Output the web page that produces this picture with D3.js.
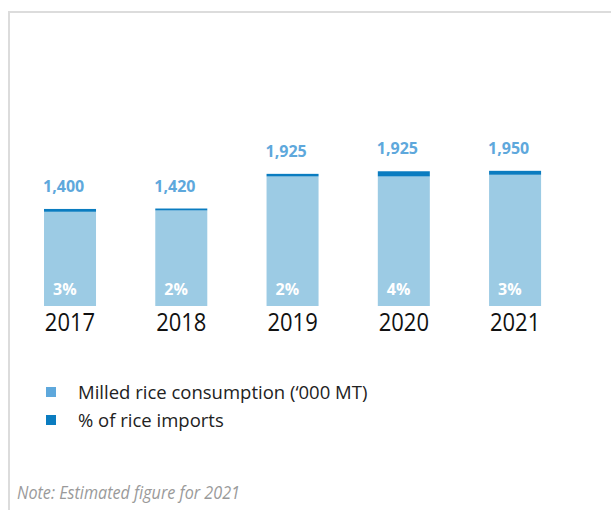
<!DOCTYPE html>
<html><head><meta charset="utf-8">
<script src="https://cdn.jsdelivr.net/npm/d3@7"></script>
<style>
html,body{margin:0;padding:0;background:#fff;}
svg{display:block;font-family:"Open Sans",sans-serif;}
</style></head>
<body>
<svg id="chart" width="611" height="510"></svg>
<script>
const years = ["2017","2018","2019","2020","2021"];
const consumption = [1400, 1420, 1925, 1925, 1950];
const importPct = [3, 2, 2, 4, 3];
const legendLabels = ["Milled rice consumption (\u2018000 MT)", "% of rice imports"];
const noteText = "Note: Estimated figure for 2021";

const svg = d3.select("#chart");
const lightBar = "#9ccbe4", darkBar = "#0a7cc0", valueColor = "#5ea8dc";

// frame
svg.append("line").attr("x1",9).attr("x2",611).attr("y1",12).attr("y2",12).attr("stroke","#dcdcdc").attr("stroke-width",2);
svg.append("line").attr("x1",9).attr("x2",9).attr("y1",11).attr("y2",510).attr("stroke","#dcdcdc").attr("stroke-width",2);

const x = d3.scaleBand().domain(years).range([16.2, 568.9]).paddingInner(0.5326).paddingOuter(0.25);
const y = d3.scaleLinear().domain([0, 2000]).range([306, 306 - 2000*0.0673]);

const data = years.map((yr,i)=>({year:yr, cons:consumption[i], pct:importPct[i], imp:consumption[i]*importPct[i]/100}));

const g = svg.append("g");
g.selectAll("rect.light").data(data).join("rect").attr("class","light")
  .attr("x", d=>x(d.year)).attr("width", x.bandwidth())
  .attr("y", d=>y(d.cons)).attr("height", d=>y(0)-y(d.cons)).attr("fill", lightBar);
g.selectAll("rect.dark").data(data).join("rect").attr("class","dark")
  .attr("x", d=>x(d.year)).attr("width", x.bandwidth())
  .attr("y", d=>y(d.cons + d.imp)).attr("height", d=>y(d.cons)-y(d.cons+d.imp)).attr("fill", darkBar);

g.selectAll("text.val").data(data).join("text").attr("class","val")
  .attr("x", d=>x(d.year)-1).attr("y", d=>y(d.cons+d.imp)-17)
  .attr("font-size",16).attr("font-weight",700).attr("fill",valueColor)
  .text(d=>d3.format(",")(d.cons));

g.selectAll("text.pct").data(data).join("text").attr("class","pct")
  .attr("x", d=>x(d.year)+9).attr("y", 295)
  .attr("font-size",16).attr("font-weight",700).attr("fill","#fff")
  .text(d=>d.pct+"%");

const xAxis = d3.axisBottom(x).tickSize(0).tickPadding(0);
const ax = svg.append("g").attr("transform","translate(0,310)").call(xAxis);
ax.select(".domain").remove();
ax.selectAll("text").attr("font-family","Open Sans").attr("font-size",22).attr("fill","#111")
  .attr("dy","0.71em").attr("transform","scale(1,1.17)").attr("y",2);

// legend
const lg = svg.append("g");
const legColors = ["#5ea8dc", "#0a7cc0"];
legendLabels.forEach((t,i)=>{
  lg.append("rect").attr("x",46).attr("y",387+i*28).attr("width",10).attr("height",10).attr("fill",legColors[i]);
  lg.append("text").attr("x",78).attr("y",399+i*28).attr("font-size",18.5).attr("fill","#222").text(t);
});

svg.append("text").attr("x",17).attr("y",499).attr("font-size",18).attr("font-style","italic")
  .attr("fill","#9a9a9a").attr("textLength",223).attr("lengthAdjust","spacingAndGlyphs").text(noteText);
</script>
</body></html>
